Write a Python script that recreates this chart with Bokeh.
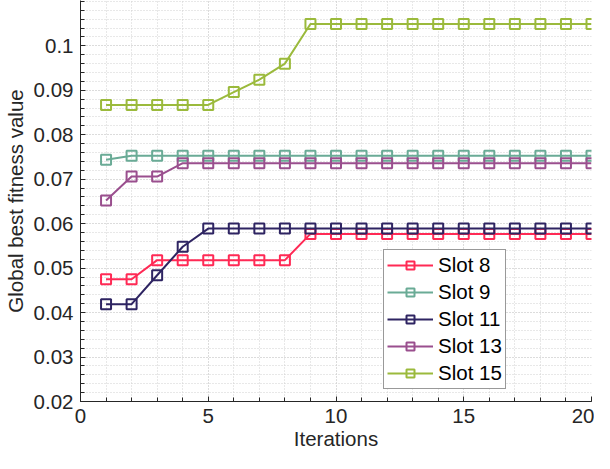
from bokeh.plotting import figure
from bokeh.models import Range1d, FixedTicker, CustomJSTickFormatter, Legend, LegendItem
from bokeh.embed import file_html
from bokeh.resources import INLINE

iterations = list(range(1, 21))
slot8 = [0.0475, 0.0475, 0.0518, 0.0518, 0.0518, 0.0518, 0.0518, 0.0518] + [0.0577] * 12
slot9 = [0.0744] + [0.0753] * 19
slot11 = [0.0419, 0.0419, 0.0484, 0.0548] + [0.0589] * 16
slot13 = [0.0652, 0.0706, 0.0706] + [0.0736] * 17
slot15 = [0.0867] * 5 + [0.0896, 0.0924, 0.0960] + [0.1049] * 12

series_names = ["Slot 8", "Slot 9", "Slot 11", "Slot 13", "Slot 15"]
series_values = [slot8, slot9, slot11, slot13, slot15]
series_colors = ["#ff2a55", "#6aab96", "#2e2462", "#9a4f8e", "#9bba3c"]

x_major = [0, 5, 10, 15, 20]
x_minor = list(range(0, 21))
y_major = [0.02, 0.03, 0.04, 0.05, 0.06, 0.07, 0.08, 0.09, 0.10]
y_minor = [round(0.02 + 0.002 * i, 3) for i in range(46)]

FONT = "Liberation Sans"
TXT = "#262626"
FS = "20.5px"

p = figure(width=594, height=453, output_backend="svg", toolbar_location=None,
           x_range=Range1d(0, 20), y_range=Range1d(0.02, 0.1102),
           min_border_left=79, min_border_right=3, min_border_top=0, min_border_bottom=52)
p.outline_line_color = None
p.background_fill_color = "white"

p.xaxis.ticker = FixedTicker(ticks=x_major, minor_ticks=x_minor)
p.yaxis.ticker = FixedTicker(ticks=y_major, minor_ticks=y_minor)
p.yaxis.formatter = CustomJSTickFormatter(code="return parseFloat(tick.toFixed(3)).toString();")

for ax in (p.xaxis, p.yaxis):
    ax.major_tick_in = 5
    ax.major_tick_out = 0
    ax.minor_tick_in = 4
    ax.minor_tick_out = 0
    ax.axis_line_color = TXT
    ax.major_tick_line_color = TXT
    ax.minor_tick_line_color = TXT
    ax.major_label_text_font = FONT
    ax.major_label_text_font_size = FS
    ax.major_label_text_color = TXT
    ax.axis_label_text_font = FONT
    ax.axis_label_text_font_size = FS
    ax.axis_label_text_font_style = "normal"
    ax.axis_label_text_color = TXT

p.xaxis.axis_label = "Iterations"
p.yaxis.axis_label = "Global best fitness value"
p.xaxis.major_label_standoff = 7
p.xaxis.axis_label_standoff = 1
p.yaxis.major_label_standoff = 7
p.yaxis.axis_label_standoff = 4

for g in (p.xgrid, p.ygrid):
    g.grid_line_color = "#d0d0d0"
    g.grid_line_dash = "1 2"
    g.grid_line_width = 1
    g.minor_grid_line_color = "#d0d0d0"
    g.minor_grid_line_dash = "1 2"
    g.minor_grid_line_width = 1

items = []
for name, vals, col in zip(series_names, series_values, series_colors):
    ln = p.line(iterations, vals, line_color=col, line_width=2)
    sq = p.scatter(iterations, vals, marker="square", size=10, line_color=col,
                   line_width=2, fill_alpha=0)
    items.append(LegendItem(label=name, renderers=[ln, sq]))

legend = Legend(items=items, location=(303, 12))
legend.label_text_font = FONT
legend.label_text_font_size = FS
legend.label_text_color = "black"
legend.glyph_width = 46
legend.glyph_height = 20
legend.label_height = 20
legend.label_standoff = 5
legend.spacing = 3
legend.padding = 3
legend.margin = 0
legend.border_line_color = "#333333"
legend.border_line_width = 1
legend.background_fill_alpha = 1
p.add_layout(legend, "center")

open("out.html", "w").write(file_html(p, INLINE))
